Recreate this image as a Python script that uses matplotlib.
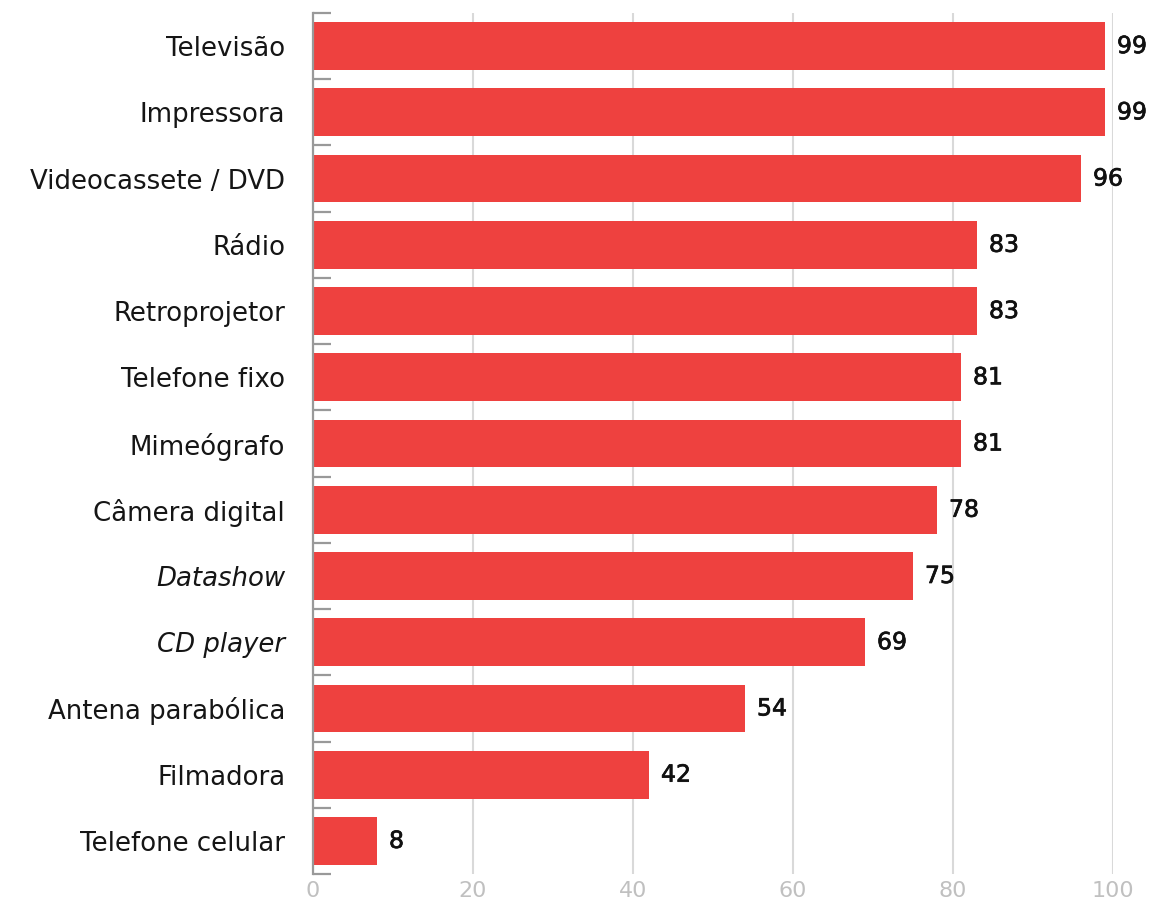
import matplotlib
matplotlib.use("Agg")
import matplotlib.pyplot as plt
import matplotlib.patheffects as pe
import numpy as np

categories = ["Televisão", "Impressora", "Videocassete / DVD", "Rádio", "Retroprojetor",
              "Telefone fixo", "Mimeógrafo", "Câmera digital", "Datashow", "CD player",
              "Antena parabólica", "Filmadora", "Telefone celular"]
values = [99, 99, 96, 83, 83, 81, 81, 78, 75, 69, 54, 42, 8]
italic_labels = ["Datashow", "CD player"]
xticks = [0, 20, 40, 60, 80, 100]

BAR_COLOR = "#EE413F"
GRID_COLOR = "#D9D9D9"
SPINE_COLOR = "#999999"

plt.rcParams['font.family'] = ['DejaVu Sans']

fig = plt.figure(figsize=(11.52, 9.08), dpi=100)
ax = fig.add_axes([0.2717, 0.0374, 0.6944, 0.9483])

n = len(categories)
y = np.arange(n)
ax.barh(y, values, height=0.72, color=BAR_COLOR, zorder=3)
ax.set_ylim(n - 0.5, -0.5)
ax.set_xlim(0, 100)

for yi, v in zip(y, values):
    ax.text(v + 1.5, yi, str(v), va="center", ha="left", fontsize=17,
            color="#111111", clip_on=False,
            path_effects=[pe.withStroke(linewidth=0.5, foreground="#111111")])

ax.set_yticks(y)
ax.set_yticklabels(categories, fontsize=18.7, color="#151515")
for lab in ax.get_yticklabels():
    if lab.get_text() in italic_labels:
        lab.set_fontstyle("italic")
ax.tick_params(axis="y", which="major", length=0, pad=20)
ax.set_yticks(np.arange(n + 1) - 0.5, minor=True)
ax.tick_params(axis="y", which="minor", direction="in", length=13, width=1.6, color=SPINE_COLOR)

ax.set_xticks(xticks)
ax.tick_params(axis="x", length=0, labelsize=16, labelcolor="#C0C0C0", pad=5)
ax.xaxis.grid(True, color=GRID_COLOR, linewidth=1.5, zorder=0)
ax.set_axisbelow(True)

for s in ["top", "right", "bottom"]:
    ax.spines[s].set_visible(False)
ax.spines["left"].set_color(SPINE_COLOR)
ax.spines["left"].set_linewidth(1.6)
ax.spines["left"].set_zorder(4)

fig.savefig("out.png", dpi=100)
